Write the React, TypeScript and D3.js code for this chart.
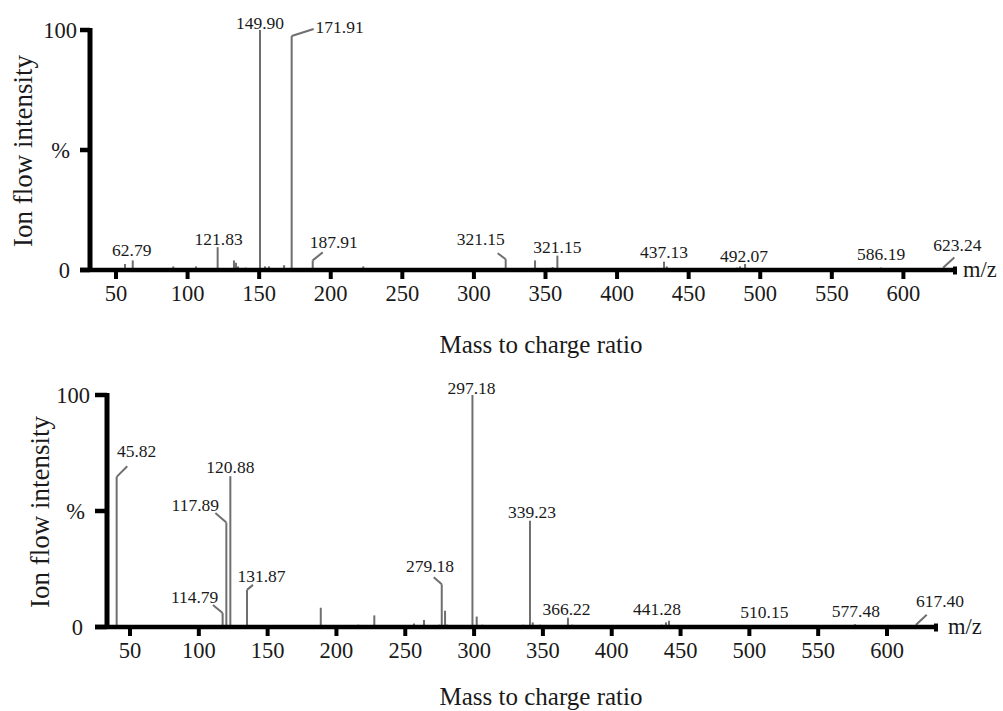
import React from 'react';
import * as d3 from 'd3';

// ---------- shared axis data ----------
const xTickValues = [50, 100, 150, 200, 250, 300, 350, 400, 450, 500, 550, 600];
const yTickValues = [0, 50, 100];
const yTickLabels = ['0', '%', '100'];
const xAxisTitle = 'Mass to charge ratio';
const yAxisTitle = 'Ion flow intensity';
const xUnit = 'm/z';

// ---------- top spectrum ----------
const topPeakMz = [56.3, 61.7, 90.0, 105.9, 121.0, 132.4, 133.8, 135.2, 140.6, 150.6, 154.1, 156.9, 167.4, 172.7,
  187.4, 222.7, 273.5, 307.8, 310.1, 322.2, 342.7, 353.2, 355.0, 358.3, 376.9, 379.2, 416.0, 432.8, 434.7,
  464.9, 466.1, 483.8, 485.9, 489.4, 506.8, 526.6, 546.4, 572.5, 584.4, 593.0, 602.3, 618.1, 627.9];
const topPeakIntensity = [2.5, 4, 1.5, 1.5, 9.5, 4, 3, 1.5, 1, 100, 1.5, 1.5, 2, 97.5,
  4, 1.5, 0.8, 0.8, 0.8, 4.5, 4, 0.8, 1.2, 6, 0.8, 0.8, 0.8, 3.5, 1.5,
  0.8, 0.8, 1, 1.5, 2.5, 0.8, 0.8, 0.8, 0.8, 1, 0.8, 0.8, 0.8, 1];
const topLabelText = ['62.79', '121.83', '149.90', '171.91', '187.91', '321.15', '321.15', '437.13', '492.07', '586.19', '623.24'];
const topLabelMz = [61.7, 121.0, 150.6, 172.7, 187.4, 322.2, 358.3, 432.8, 489.4, 584.4, 627.9];
const topLabelIntensity = [4, 9.5, 100, 97.5, 4, 4.5, 6, 3.5, 2.5, 1, 1];

// ---------- bottom spectrum ----------
const bottomPeakMz = [40.3, 117.3, 120.0, 122.9, 135.0, 188.6, 215.9, 227.5, 256.3, 263.6, 274.7, 276.5, 278.9,
  280.5, 298.8, 301.9, 306.0, 335.7, 340.6, 342.6, 347.9, 368.2, 371.3, 436.3, 439.4, 441.6, 478.7, 507.7,
  514.5, 576.7, 577.9, 585.2, 621.1];
const bottomPeakIntensity = [64.7, 6, 45, 65, 16, 8.3, 1, 5, 1.5, 3, 1, 18.4, 7,
  1, 100, 4.5, 1, 1, 45.8, 2, 1, 4, 1, 1, 2, 2.7, 0.8, 0.8,
  0.8, 1.2, 0.8, 0.8, 1];
const bottomLabelText = ['45.82', '120.88', '117.89', '114.79', '131.87', '279.18', '297.18', '339.23', '366.22', '441.28', '510.15', '577.48', '617.40'];
const bottomLabelMz = [40.3, 122.9, 120.0, 117.3, 135.0, 276.5, 298.8, 340.6, 368.2, 441.6, 514.5, 576.7, 621.1];
const bottomLabelIntensity = [64.7, 65, 45, 6, 16, 18.4, 100, 45.8, 4, 2.7, 0.8, 1.2, 1];

// ---------- layout (pixel offsets of labels / leader lines from the peak top) ----------
type Off = { dx: number; dy: number; lx?: number; ly?: number };
const topLabelLayout: Off[] = [
  { dx: -1, dy: -4.5 },
  { dx: 1, dy: -2 },
  { dx: 0, dy: -1 },
  { dx: 48, dy: -3, lx: 22, ly: -7 },
  { dx: 21, dy: -12, lx: 10, ly: -8 },
  { dx: -25, dy: -14, lx: -8, ly: -6 },
  { dx: 0, dy: -2.5 },
  { dx: 0, dy: -3.5 },
  { dx: -1, dy: -2 },
  { dx: 0, dy: -7.6 },
  { dx: 14, dy: -16.6, lx: 11, ly: -10 },
];
const bottomLabelLayout: Off[] = [
  { dx: 20, dy: -20, lx: 10.6, ly: -10.7 },
  { dx: 0, dy: -3 },
  { dx: -31, dy: -11.6, lx: -11, ly: -9.6 },
  { dx: -28, dy: -10, lx: -9.7, ly: -8 },
  { dx: 14.5, dy: -8, lx: 6, ly: -5 },
  { dx: -11.7, dy: -12.3, lx: -8, ly: -7 },
  { dx: -1, dy: -1 },
  { dx: 2, dy: -2.7 },
  { dx: -1.5, dy: -2.7 },
  { dx: -12, dy: -5.7 },
  { dx: -5, dy: -7 },
  { dx: 1, dy: -7 },
  { dx: 24, dy: -17.7, lx: 10.7, ly: -10 },
];

type PanelCfg = {
  xRange: [number, number];
  yRange: [number, number];
  axisLeft: number;
  yAxisX: number;
  axisRight: number;
  yLabelEnd: number[];
  yTitleX: number;
  xTitleX: number;
  xTitleY: number;
  unitX: number;
};

const topCfg: PanelCfg = {
  xRange: [116, 903.4], yRange: [270, 30], axisLeft: 80, yAxisX: 90, axisRight: 955,
  yLabelEnd: [70, 70, 77], yTitleX: 32, xTitleX: 541, xTitleY: 353, unitX: 963,
};
const bottomCfg: PanelCfg = {
  xRange: [130, 887], yRange: [627, 395], axisLeft: 95, yAxisX: 107, axisRight: 936,
  yLabelEnd: [83, 85, 90], yTitleX: 49, xTitleX: 541, xTitleY: 705, unitX: 948,
};

const FONT = "'Liberation Serif', 'Times New Roman', serif";
const PEAK = '#6f6f6f';
const INK = '#1a1a1a';

function Panel(props: {
  cfg: PanelCfg; mz: number[]; inten: number[]; lText: string[]; lMz: number[]; lInt: number[]; layout: Off[];
}) {
  const { cfg, mz, inten, lText, lMz, lInt, layout } = props;
  const x = d3.scaleLinear().domain([50, 600]).range(cfg.xRange);
  const y = d3.scaleLinear().domain([0, 100]).range(cfg.yRange);
  const y0 = y(0);
  const yMid = (y(0) + y(100)) / 2 + 1;
  return (
    <g fontFamily={FONT}>
      {mz.map((m, i) => (
        <line key={'p' + i} x1={x(m)} x2={x(m)} y1={y0} y2={y(inten[i])} stroke={PEAK} strokeWidth={2} />
      ))}
      {lText.map((t, i) => {
        const px = x(lMz[i]);
        const py = y(lInt[i]);
        const o = layout[i];
        return (
          <g key={'l' + i}>
            {o.lx !== undefined && (
              <line x1={px} y1={py} x2={px + (o.lx as number)} y2={py + (o.ly as number)} stroke={PEAK} strokeWidth={2} />
            )}
            <text x={px + o.dx} y={py + o.dy} textAnchor="middle" fontSize={17.5} fill={INK}>{t}</text>
          </g>
        );
      })}
      {/* x axis */}
      <line x1={cfg.axisLeft} x2={cfg.axisRight} y1={y0} y2={y0} stroke="#000" strokeWidth={4.5} />
      <line x1={cfg.axisRight} x2={cfg.axisRight} y1={y0 - 3.5} y2={y0 + 4.5} stroke="#000" strokeWidth={4} />
      {/* y axis */}
      <line x1={cfg.yAxisX} x2={cfg.yAxisX} y1={y0} y2={y(100) - 2} stroke="#000" strokeWidth={5} />
      {yTickValues.map((v, i) => (
        <g key={'yt' + i}>
          <line x1={cfg.axisLeft} x2={cfg.yAxisX} y1={y(v)} y2={y(v)} stroke="#000" strokeWidth={4.5} />
          <text x={cfg.yLabelEnd[i]} y={y(v) + 7.5} textAnchor="end" fontSize={22.5} fill={INK}>{yTickLabels[i]}</text>
        </g>
      ))}
      {xTickValues.map((v) => (
        <g key={'xt' + v}>
          <line x1={x(v)} x2={x(v)} y1={y0} y2={y0 + 9} stroke="#000" strokeWidth={4} />
          <text x={x(v)} y={y0 + 31} textAnchor="middle" fontSize={22.5} fill={INK}>{v}</text>
        </g>
      ))}
      <text x={cfg.unitX} y={y0 + 7} fontSize={22.5} fill={INK}>{xUnit}</text>
      <text x={cfg.xTitleX} y={cfg.xTitleY} textAnchor="middle" fontSize={25} fill={INK}>{xAxisTitle}</text>
      <text transform={`translate(${cfg.yTitleX},${yMid}) rotate(-90)`} textAnchor="middle" fontSize={27} fill={INK}>{yAxisTitle}</text>
    </g>
  );
}

export default function App() {
  return (
    <svg width={1003} height={711} style={{ position: 'absolute', left: 0, top: 0, background: '#fff' }}>
      <rect width={1003} height={711} fill="#fff" />
      <Panel cfg={topCfg} mz={topPeakMz} inten={topPeakIntensity} lText={topLabelText} lMz={topLabelMz} lInt={topLabelIntensity} layout={topLabelLayout} />
      <Panel cfg={bottomCfg} mz={bottomPeakMz} inten={bottomPeakIntensity} lText={bottomLabelText} lMz={bottomLabelMz} lInt={bottomLabelIntensity} layout={bottomLabelLayout} />
    </svg>
  );
}
